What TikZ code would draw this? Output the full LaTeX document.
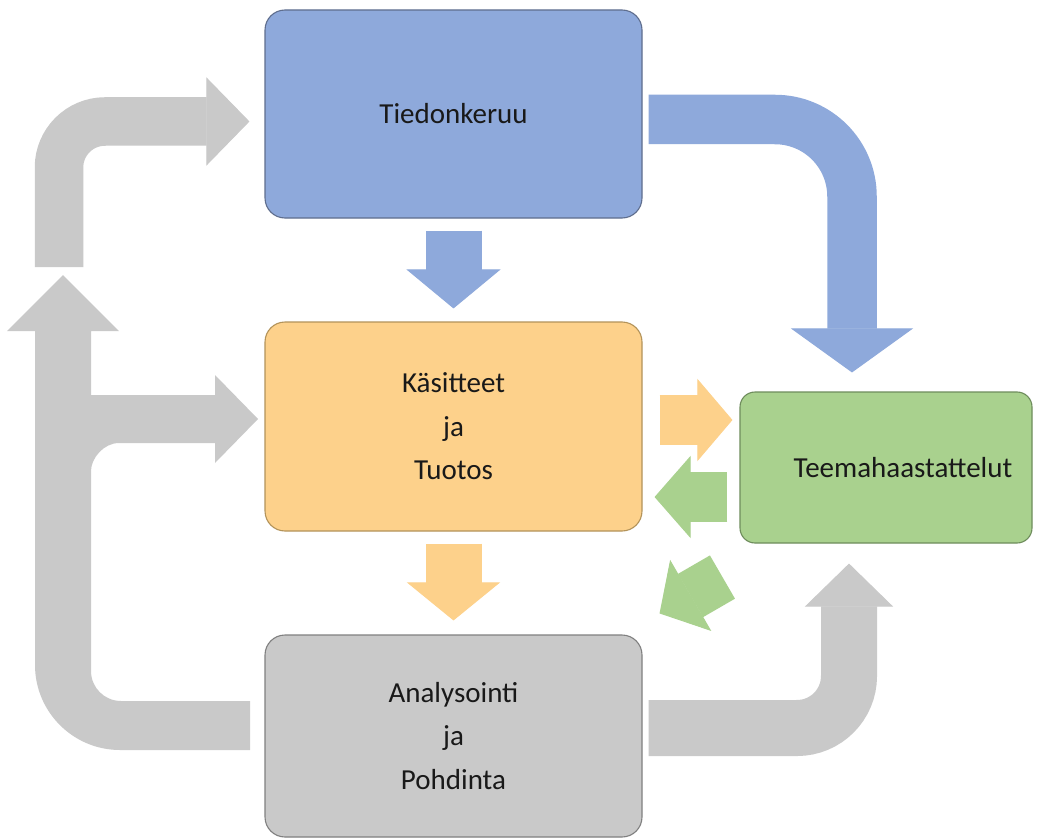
\documentclass[tikz,border=0pt]{standalone}
\usepackage{fontspec}
\setmainfont{Carlito}
\usetikzlibrary{arrows.meta,calc}

\definecolor{blueF}{HTML}{8EA9DB}
\definecolor{blueD}{HTML}{5F6E8E}
\definecolor{orangeF}{HTML}{FDD18B}
\definecolor{orangeD}{HTML}{B3935A}
\definecolor{greenF}{HTML}{A9D18E}
\definecolor{greenD}{HTML}{6E8C5C}
\definecolor{grayF}{HTML}{C9C9C9}
\definecolor{grayD}{HTML}{808080}

\begin{document}
\begin{tikzpicture}[x=1pt,y=-1pt,
  box/.style={draw, rounded corners=20pt, line width=1.1pt, inner sep=0pt,
    align=center, text=black!90, font=\fontsize{29}{43.5}\selectfont},
  blockarrow/.style n args={3}{line width=#1,
    -{Triangle[width=#2,length=#3,line width=1pt]}}]

\path[use as bounding box, fill=white] (0,0) rectangle (1060,840);

% the four stages
\node[box, fill=blueF, draw=blueD, minimum width=377pt, minimum height=208pt]
  (tied) at (453.5,114) {Tiedonkeruu};
\node[box, fill=orangeF, draw=orangeD, minimum width=377pt, minimum height=209pt]
  (kas) at (453.5,426.5) {Käsitteet\\ja\\Tuotos};
\node[box, fill=grayF, draw=grayD, minimum width=377pt, minimum height=202pt]
  (anal) at (453.5,736) {Analysointi\\ja\\Pohdinta};
\node[box, rounded corners=15pt, fill=greenF, draw=greenD, minimum width=292pt, minimum height=151pt]
  (teema) at (886,467.5) {\hspace*{34pt}Teemahaastattelut};

% blue: data collection feeds the concepts and the interviews
\draw[blueF, blockarrow={49.5pt}{122pt}{44pt}, rounded corners=77pt]
  ($(tied.east)+(6,5.5)$) -| ($(teema.north)+(-34,-19)$);
\draw[blueF, blockarrow={56pt}{94pt}{39pt}]
  ($(tied.south)+(0,12)$) -- ($(kas.north)+(0,-13)$);

% orange: concepts to analysis and to the interviews
\draw[orangeF, blockarrow={56pt}{93pt}{38pt}]
  ($(kas.south)+(0,12)$) -- ($(anal.north)+(0,-14)$);
\draw[orangeF, blockarrow={50pt}{82pt}{35pt}]
  ($(kas.east)+(17,-6.5)$) -- ($(teema.west |- kas.east)+(-7,-6.5)$);

% green: interviews back to concepts and to analysis
\draw[greenF, blockarrow={50pt}{82pt}{36pt}]
  ($(teema.west)+(-12,29.5)$) -- ($(kas.east |- teema.west)+(12,29.5)$);
\draw[greenF, blockarrow={50pt}{82pt}{36pt}]
  ($(teema.south west)+(-17,33.5)$) -- ($(anal.north east)+(17,-21)$);

% gray: analysis to the interviews
\draw[grayF, blockarrow={56pt}{88pt}{43pt}, rounded corners=52pt]
  ($(anal.east)+(6,-8)$) -| ($(teema.south)+(-37,20)$);

% gray: the loop on the left back to concepts and upwards
\fill[grayF] (250,701) -- (250,750) -- (120,750)
  .. controls (73.1,750) and (35,711.9) .. (35,665)
  -- (35,331) -- (7,331) -- (63,275) -- (119,331) -- (91,331)
  -- (91,395) -- (215,395) -- (215,375) -- (258,419) -- (215,463) -- (215,443)
  -- (119,443) .. controls (103.5,443) and (91,458.5) .. (91,471)
  -- (91,671) .. controls (91,687.6) and (104.4,701) .. (121,701) -- cycle;

% gray: upper loop into data collection
\coordinate (loopA) at (59,267);
\draw[grayF, blockarrow={48.5pt}{88pt}{43pt}, rounded corners=46pt]
  (loopA) |- ($(tied.west)+(-15,7.5)$);

\end{tikzpicture}
\end{document}
